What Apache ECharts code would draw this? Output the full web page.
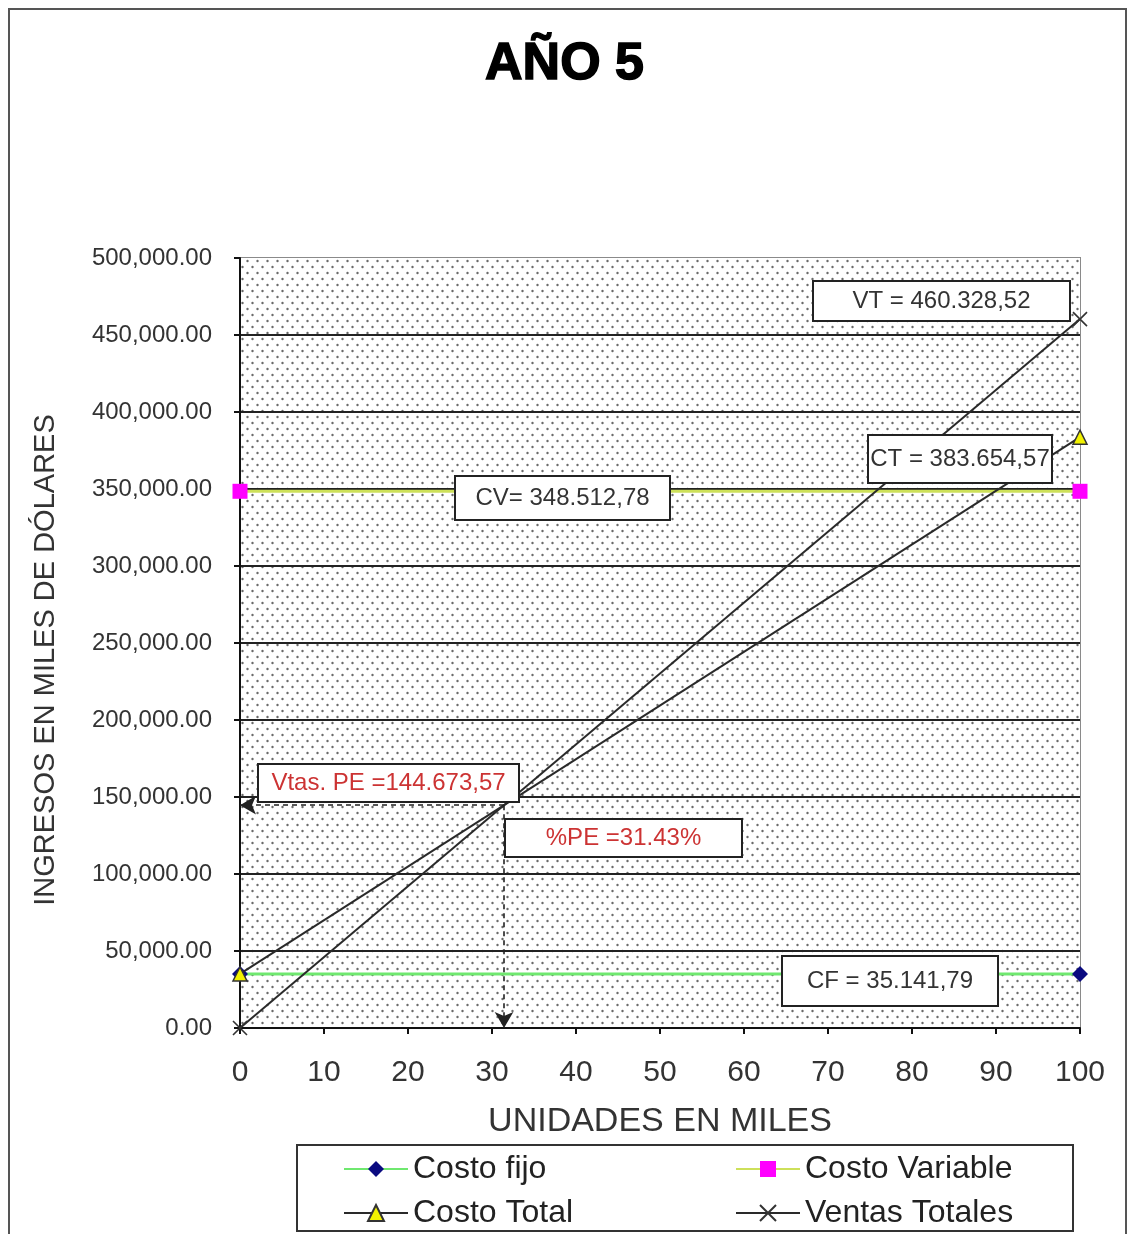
<!DOCTYPE html>
<html>
<head>
<meta charset="utf-8">
<script src="https://cdn.jsdelivr.net/npm/echarts@6/dist/echarts.min.js"></script>
<style>
  html, body { margin: 0; padding: 0; background: #fff; }
  #chart { width: 1129px; height: 1234px; }
</style>
</head>
<body>
<div id="chart"></div>
<script>
// Break-even chart, year 5 (units in thousands vs. revenue in thousands of dollars)
const units = [0, 100];
const costoFijo = [35141.79, 35141.79];
const costoVariable = [348512.78, 348512.78];
const costoTotal = [35141.79, 383654.57];
const ventasTotales = [0, 460328.52];
const peSales = 144673.57;
const pePercent = 31.43;

const FONT = '"Liberation Sans", Arial, sans-serif';

// "460.328,52" style numbers for the callouts
function fmtEs(v) {
  const [i, d] = v.toFixed(2).split('.');
  return i.replace(/\B(?=(\d{3})+(?!\d))/g, '.') + ',' + d;
}
function fmtAxis(v) {
  return v.toLocaleString('en-US', { minimumFractionDigits: 2, maximumFractionDigits: 2 });
}

// staggered dot fill for the plot area
function dotTile() {
  const c = document.createElement('canvas');
  c.width = 10; c.height = 12;
  const g = c.getContext('2d');
  g.fillStyle = '#fff';
  g.fillRect(0, 0, 10, 12);
  g.fillStyle = '#6a6a6a';
  g.beginPath(); g.arc(2.5, 3, 1.2, 0, Math.PI * 2); g.fill();
  g.beginPath(); g.arc(7.5, 9, 1.2, 0, Math.PI * 2); g.fill();
  return c;
}

const pairs = a => units.map((u, i) => [u, a[i]]);
const crossPath = 'path://M0,0L10,10M10,0L0,10';

const chart = echarts.init(document.getElementById('chart'), null, { renderer: 'canvas' });

function box(x, y, w, h, text, color) {
  return {
    type: 'group', z: 100,
    children: [
      { type: 'rect', z: 100, shape: { x: x, y: y, width: w, height: h },
        style: { fill: '#fff', stroke: '#222', lineWidth: 2 } },
      { type: 'text', z: 101, x: x + w / 2, y: y + h / 2,
        style: { text: text, fill: color, font: '24px ' + FONT, align: 'center', verticalAlign: 'middle' } }
    ]
  };
}

function legendItem(name, left, top) {
  return {
    left: left, top: top, itemWidth: 64, itemHeight: 20,
    data: [name],
    textStyle: { fontFamily: FONT, fontSize: 32, color: '#222' }
  };
}

const peUnits = pePercent; // x axis spans 0..100 thousand units

chart.setOption({
  animation: false,
  backgroundColor: '#fff',
  title: {
    text: 'AÑO 5', left: 'center', top: 34,
    textStyle: { fontFamily: FONT, fontWeight: 'bold', fontSize: 52, color: '#000',
      textBorderColor: '#000', textBorderWidth: 1.5 }
  },
  grid: {
    left: 240, right: 49, top: 258, bottom: 206,
    show: true, borderColor: '#8a8a8a', borderWidth: 2, backgroundColor: 'transparent'
  },
  legend: [
    legendItem('Costo fijo', 338, 1148),
    legendItem('Costo Variable', 730, 1148),
    legendItem('Costo Total', 338, 1192),
    legendItem('Ventas Totales', 730, 1192)
  ],
  xAxis: {
    type: 'value', min: 0, max: 100, interval: 10, z: 2,
    name: 'UNIDADES EN MILES', nameLocation: 'middle', nameGap: 77,
    nameTextStyle: { fontFamily: FONT, fontSize: 34, color: '#333' },
    axisLine: { show: true, onZero: false, lineStyle: { color: '#111', width: 2 } },
    axisTick: { show: true, length: 6, lineStyle: { color: '#111', width: 2 } },
    axisLabel: { fontFamily: FONT, fontSize: 30, color: '#333', margin: 30 },
    splitLine: { show: false }
  },
  yAxis: {
    type: 'value', min: 0, max: 500000, interval: 50000, z: 2,
    name: 'INGRESOS EN MILES DE DÓLARES', nameLocation: 'middle', nameGap: 180,
    nameTextStyle: { fontFamily: FONT, fontSize: 29, color: '#333', padding: [0, 34, 0, 0] },
    axisLine: { show: true, lineStyle: { color: '#111', width: 2 } },
    axisTick: { show: true, length: 6, lineStyle: { color: '#111', width: 2 } },
    axisLabel: { fontFamily: FONT, fontSize: 24, color: '#333', margin: 28, formatter: fmtAxis },
    splitLine: { show: true, showMaxLine: false, lineStyle: { color: '#222', width: 2 } }
  },
  series: [
    {
      name: 'Backdrop', type: 'line', data: [], silent: true, z: 0,
      markArea: {
        silent: true, z: 0,
        itemStyle: { color: { image: dotTile(), repeat: 'repeat' } },
        data: [[{ coord: [0, 0] }, { coord: [100, 500000] }]]
      }
    },
    {
      name: 'Costo fijo', type: 'line', data: pairs(costoFijo),
      symbol: 'diamond', symbolSize: 16, z: 3,
      lineStyle: { color: '#6fe86f', width: 3 },
      itemStyle: { color: '#0a0a80' }
    },
    {
      name: 'Costo Variable', type: 'line', data: pairs(costoVariable),
      symbol: 'rect', symbolSize: 15, z: 3,
      lineStyle: { color: '#cde05a', width: 3 },
      itemStyle: { color: '#ff00ff' }
    },
    {
      name: 'Costo Total', type: 'line', data: pairs(costoTotal),
      symbol: 'triangle', symbolSize: 14, z: 4,
      lineStyle: { color: '#2a2a2a', width: 2 },
      itemStyle: { color: '#f2f200', borderColor: '#333', borderWidth: 1.5 }
    },
    {
      name: 'Ventas Totales', type: 'line', data: pairs(ventasTotales),
      symbol: crossPath, symbolSize: 14, z: 4,
      lineStyle: { color: '#2a2a2a', width: 2 },
      itemStyle: { color: '#333', borderColor: '#333', borderWidth: 1.6 },
      markLine: {
        silent: true,
        symbol: ['none', 'arrow'], symbolSize: [14, 16],
        label: { show: false },
        lineStyle: { color: '#222', width: 1.6, type: [5, 4] },
        data: [
          [{ coord: [peUnits, peSales] }, { coord: [0, peSales] }],
          [{ coord: [peUnits, peSales] }, { coord: [peUnits, 0] }]
        ]
      }
    }
  ],
  graphic: [
    { type: 'rect', z: 90, silent: true, shape: { x: 9, y: 9, width: 1117, height: 1260 },
      style: { fill: 'none', stroke: '#555', lineWidth: 2 } },
    { type: 'rect', z: 90, silent: true, shape: { x: 297, y: 1145, width: 776, height: 86 },
      style: { fill: 'none', stroke: '#333', lineWidth: 2 } },
    box(813, 281, 257, 40, 'VT = ' + fmtEs(ventasTotales[1]), '#333'),
    box(868, 435, 184, 48, 'CT = ' + fmtEs(costoTotal[1]), '#333'),
    box(455, 476, 215, 44, 'CV= ' + fmtEs(costoVariable[0]), '#333'),
    box(258, 764, 261, 38, 'Vtas. PE =' + fmtEs(peSales), '#cc3333'),
    box(505, 819, 237, 38, '%PE =' + pePercent.toFixed(2) + '%', '#cc3333'),
    box(782, 956, 216, 50, 'CF = ' + fmtEs(costoFijo[0]), '#333')
  ]
});
</script>
</body>
</html>
